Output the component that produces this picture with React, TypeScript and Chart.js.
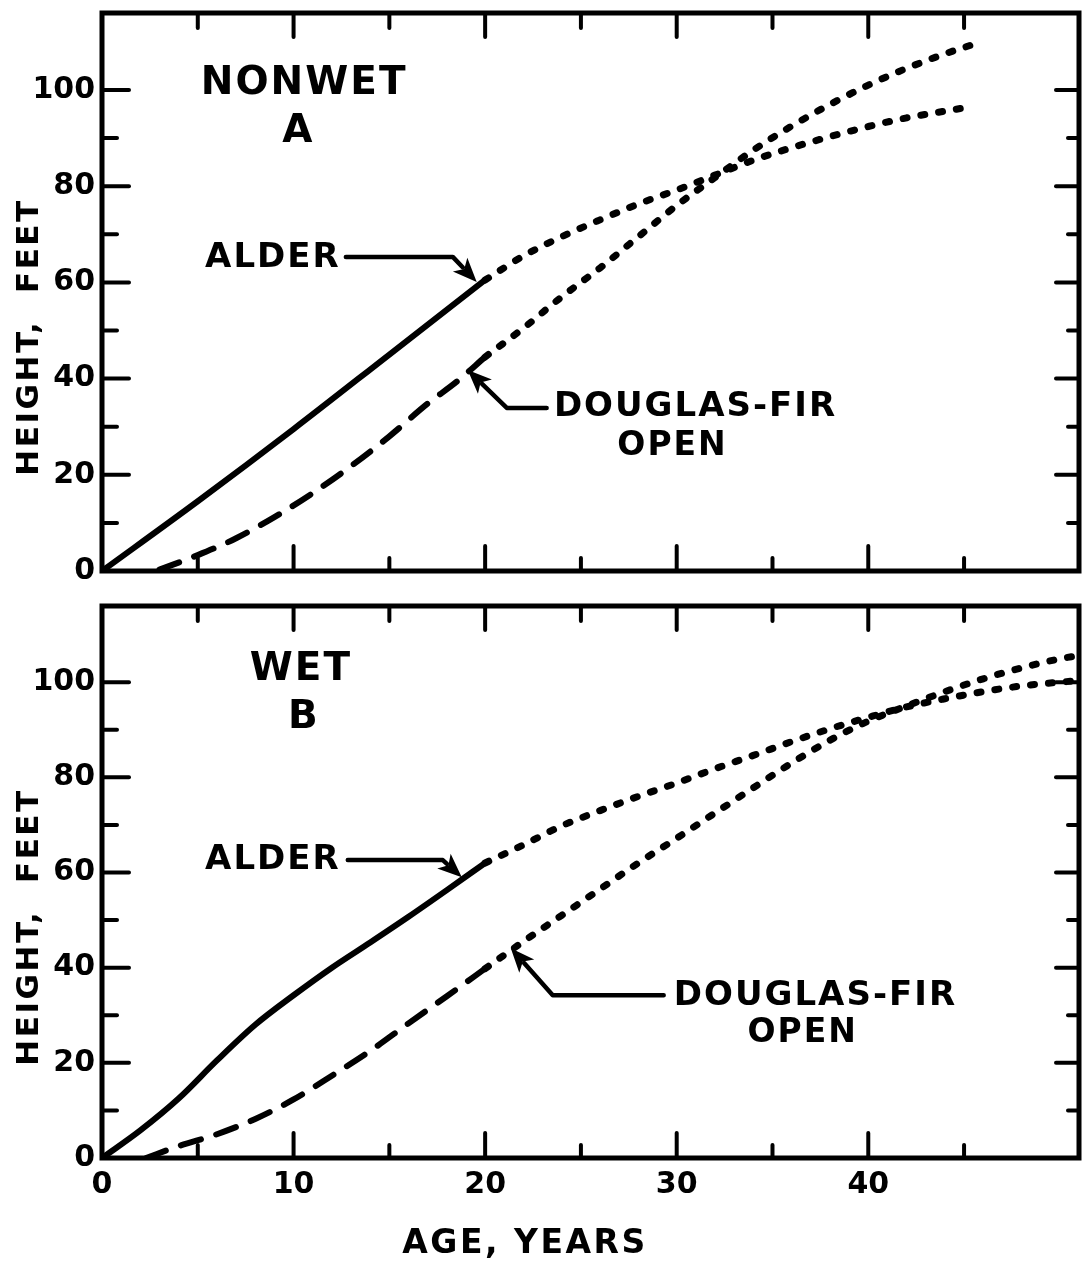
import React, { useEffect, useRef } from "react";
import { Chart, registerables } from "chart.js";

Chart.register(...registerables);

// ---------- Panel A: NONWET ----------
const alderNonwetObsAge = [0, 5, 10, 15, 20];
const alderNonwetObsHeight = [0, 14.5, 29.5, 45, 60.5];
const alderNonwetProjAge = [20, 22, 24, 26, 28, 30, 32, 34, 36, 38, 40, 42, 44, 45.5];
const alderNonwetProjHeight = [60.5, 65.5, 69.5, 73, 76.3, 79.2, 82.3, 85.4, 88, 90.3, 92.4, 94.2, 95.6, 96.6];
const firNonwetObsAge = [3, 5, 7, 9, 11, 13, 15, 17, 18.5, 20];
const firNonwetObsHeight = [0.3, 3.3, 6.8, 11.2, 16.2, 21.8, 28, 34.8, 39.3, 44.5];
const firNonwetProjAge = [20, 22, 24, 26, 28, 30, 32, 34, 36, 38, 40, 42, 44, 45.5];
const firNonwetProjHeight = [44.5, 50.5, 57, 63, 69.5, 76, 81.8, 87.5, 92.5, 97, 101, 104.5, 107.5, 109.5];

// ---------- Panel B: WET ----------
const alderWetObsAge = [0, 2, 4, 6, 8, 10, 12, 14, 16, 18, 20];
const alderWetObsHeight = [0, 5.8, 12.5, 20.5, 28, 34.2, 40, 45.3, 50.7, 56.3, 62];
const alderWetProjAge = [20, 22, 24, 26, 28, 30, 32, 34, 36, 38, 40, 42, 44, 46, 48, 50, 51];
const alderWetProjHeight = [62, 65.8, 69.8, 73, 76, 78.8, 81.8, 84.6, 87.5, 90.2, 92.6, 94.8, 96.5, 98, 99.2, 100, 100.3];
const firWetObsAge = [2.3, 4, 6, 8, 10, 12, 14, 16, 18, 20];
const firWetObsHeight = [0, 2.5, 5, 8.2, 12.3, 17.3, 22.5, 28.3, 34, 39.8];
const firWetProjAge = [20, 22, 24, 26, 28, 30, 32, 34, 36, 38, 40, 42, 44, 46, 48, 50, 51];
const firWetProjHeight = [39.8, 45.5, 51, 56.5, 62, 67.2, 72.5, 77.8, 83, 87.8, 91.8, 95, 98, 100.7, 103, 104.9, 105.6];

// axes
const X_MIN = 0;
const X_MAX = 51;
const Y_MIN = 0;
const Y_MAX = 116;
const X_STEP = 5;
const Y_STEP = 10;
const xTickLabels = ["0", "10", "20", "30", "40"];
const yTickLabels = ["0", "20", "40", "60", "80", "100"];

const FONT = '"DejaVu Sans", sans-serif';

type Label = { text: string; x: number; y: number; size: number; spacing: number };
type Arrow = { pts: [number, number][] };

const nonwetLabels: Label[] = [
  { text: "NONWET", x: 10.5, y: 101.2, size: 39, spacing: 2 },
  { text: "A", x: 10.2, y: 91.2, size: 39, spacing: 0 },
  { text: "ALDER", x: 8.87, y: 65.1, size: 34, spacing: 2 },
  { text: "DOUGLAS-FIR", x: 30.93, y: 34.1, size: 34, spacing: 2 },
  { text: "OPEN", x: 29.73, y: 25.8, size: 33, spacing: 2 },
];
const nonwetArrows: Arrow[] = [
  { pts: [[12.73, 65.3], [18.31, 65.3], [19.56, 60.1]] },
  { pts: [[23.21, 33.9], [21.13, 33.9], [19.09, 41.8]] },
];
const wetLabels: Label[] = [
  { text: "WET", x: 10.33, y: 102.5, size: 39, spacing: 2 },
  { text: "B", x: 10.49, y: 92.4, size: 39, spacing: 0 },
  { text: "ALDER", x: 8.87, y: 62.6, size: 34, spacing: 2 },
  { text: "DOUGLAS-FIR", x: 37.19, y: 34.0, size: 34, spacing: 2 },
  { text: "OPEN", x: 36.52, y: 26.1, size: 33, spacing: 2 },
];
const wetArrows: Arrow[] = [
  { pts: [[12.83, 62.6], [17.79, 62.6], [18.78, 59.0]] },
  { pts: [[29.32, 34.2], [23.53, 34.2], [21.34, 44.1]] },
];

const zip = (xs: number[], ys: number[]) => xs.map((x, i) => ({ x, y: ys[i] }));

const solidStyle = { borderWidth: 6, borderDash: [] as number[], borderCapStyle: "round" as const };
const dashStyle = { borderWidth: 6, borderDash: [21, 16], borderCapStyle: "round" as const };
const dotStyle = { borderWidth: 7, borderDash: [4, 14], borderCapStyle: "round" as const };

const annotPlugin = {
  id: "annot",
  afterDraw(chart: any, _args: any, opts: any) {
    const { ctx, chartArea: a } = chart;
    const xs = chart.scales.x;
    const ys = chart.scales.y;
    ctx.save();
    ctx.setLineDash([]);
    ctx.strokeStyle = "#000";
    ctx.fillStyle = "#000";
    // frame
    ctx.lineWidth = 5;
    ctx.lineJoin = "miter";
    ctx.strokeRect(a.left, a.top, a.right - a.left, a.bottom - a.top);
    // inward ticks
    ctx.lineWidth = 4;
    ctx.lineCap = "round";
    const seg = (x1: number, y1: number, x2: number, y2: number) => {
      ctx.beginPath();
      ctx.moveTo(x1, y1);
      ctx.lineTo(x2, y2);
      ctx.stroke();
    };
    xs.ticks.forEach((t: any) => {
      const v = t.value;
      if (v <= 0 || Math.abs(v % X_STEP) > 1e-6) return;
      const major = v % 10 === 0;
      const px = xs.getPixelForValue(v);
      seg(px, a.bottom, px, a.bottom - (major ? 25 : 13));
      seg(px, a.top, px, a.top + (major ? 24 : 15));
    });
    ys.ticks.forEach((t: any) => {
      const v = t.value;
      if (v <= 0 || Math.abs(v % Y_STEP) > 1e-6) return;
      const major = v % 20 === 0;
      const py = ys.getPixelForValue(v);
      seg(a.left, py, a.left + (major ? 27 : 15), py);
      seg(a.right, py, a.right - (major ? 23 : 11), py);
    });
    // labels
    ctx.textAlign = "center";
    ctx.textBaseline = "middle";
    (opts.labels || []).forEach((l: Label) => {
      ctx.font = `bold ${l.size}px ${FONT}`;
      (ctx as any).letterSpacing = `${l.spacing}px`;
      ctx.fillText(l.text, xs.getPixelForValue(l.x) + l.spacing / 2, ys.getPixelForValue(l.y));
    });
    // arrows
    (opts.arrows || []).forEach((ar: Arrow) => {
      const p = ar.pts.map(([x, y]) => [xs.getPixelForValue(x), ys.getPixelForValue(y)]);
      ctx.lineWidth = 4.5;
      ctx.lineCap = "round";
      ctx.lineJoin = "round";
      const n = p.length;
      const [tx, ty] = p[n - 1];
      const [sx, sy] = p[n - 2];
      const ang = Math.atan2(ty - sy, tx - sx);
      const L = 24;
      const W = 10;
      ctx.beginPath();
      ctx.moveTo(p[0][0], p[0][1]);
      for (let i = 1; i < n - 1; i++) ctx.lineTo(p[i][0], p[i][1]);
      ctx.lineTo(tx - Math.cos(ang) * (L - 4), ty - Math.sin(ang) * (L - 4));
      ctx.stroke();
      const bx = tx - Math.cos(ang) * L;
      const by = ty - Math.sin(ang) * L;
      ctx.beginPath();
      ctx.moveTo(tx, ty);
      ctx.lineTo(bx + Math.sin(ang) * W, by - Math.cos(ang) * W);
      ctx.lineTo(bx + Math.cos(ang) * 6, by + Math.sin(ang) * 6);
      ctx.lineTo(bx - Math.sin(ang) * W, by + Math.cos(ang) * W);
      ctx.closePath();
      ctx.fill();
    });
    // y title
    ctx.save();
    ctx.translate(30, 337);
    ctx.rotate(-Math.PI / 2);
    ctx.font = `bold 31px ${FONT}`;
    (ctx as any).letterSpacing = "2.5px";
    ctx.fillText("HEIGHT,  FEET", 0, 0);
    ctx.restore();
    // x title
    if (opts.xTitle) {
      ctx.font = `bold 33px ${FONT}`;
      (ctx as any).letterSpacing = "2.5px";
      ctx.fillText(opts.xTitle, 525, a.bottom + 86);
    }
    ctx.restore();
  },
};

function makeConfig(
  series: { alderObs: any[]; alderProj: any[]; firObs: any[]; firProj: any[] },
  opts: { labels: Label[]; arrows: Arrow[]; xTitle?: string; showXLabels: boolean; padTop: number; xHeight: number }
): any {
  return {
    type: "line",
    data: {
      datasets: [
        { label: "Alder", data: series.alderObs, ...solidStyle },
        { label: "Alder (projected)", data: series.alderProj, ...dotStyle },
        { label: "Douglas-fir open", data: series.firObs, ...dashStyle },
        { label: "Douglas-fir open (projected)", data: series.firProj, ...dotStyle },
      ].map((d) => ({
        ...d,
        borderColor: "#000",
        pointRadius: 0,
        fill: false,
        cubicInterpolationMode: "monotone",
        borderJoinStyle: "round",
      })),
    },
    options: {
      responsive: false,
      animation: false,
      events: [],
      devicePixelRatio: 1,
      layout: { padding: { left: 0, right: 3, top: opts.padTop, bottom: 0 } },
      plugins: {
        legend: { display: false },
        tooltip: { enabled: false },
        annot: { labels: opts.labels, arrows: opts.arrows, xTitle: opts.xTitle },
      },
      scales: {
        x: {
          type: "linear",
          min: X_MIN,
          max: X_MAX,
          grid: { display: false, drawTicks: false },
          border: { display: false },
          ticks: {
            display: opts.showXLabels,
            stepSize: X_STEP,
            autoSkip: false,
            maxRotation: 0,
            padding: 9,
            color: "#000",
            font: { family: FONT, weight: "bold", size: 30 },
            callback: (v: number) => (xTickLabels.includes(String(v)) ? String(v) : ""),
          },
          afterFit: (s: any) => {
            s.height = opts.xHeight;
            s.paddingLeft = 0;
            s.paddingRight = 0;
            s.paddingTop = 0;
            s.paddingBottom = 0;
          },
        },
        y: {
          type: "linear",
          min: Y_MIN,
          max: Y_MAX,
          grid: { display: false, drawTicks: false },
          border: { display: false },
          ticks: {
            stepSize: Y_STEP,
            autoSkip: false,
            padding: 7,
            color: "#000",
            font: { family: FONT, weight: "bold", size: 30 },
            callback: (v: number) => (yTickLabels.includes(String(v)) ? String(v) : ""),
          },
          afterFit: (s: any) => {
            s.width = 102;
            s.paddingLeft = 0;
            s.paddingRight = 0;
            s.paddingTop = 0;
            s.paddingBottom = 0;
          },
        },
      },
    },
    plugins: [annotPlugin],
  };
}

function Panel({ top, height, config }: { top: number; height: number; config: () => any }) {
  const ref = useRef<HTMLCanvasElement>(null);
  useEffect(() => {
    const chart = new Chart(ref.current as HTMLCanvasElement, config());
    return () => chart.destroy();
  }, []);
  return (
    <canvas
      ref={ref}
      width={1082}
      height={height}
      style={{ position: "absolute", left: 0, top, width: 1082, height }}
    />
  );
}

export default function App() {
  const nonwet = () =>
    makeConfig(
      {
        alderObs: zip(alderNonwetObsAge, alderNonwetObsHeight),
        alderProj: zip(alderNonwetProjAge, alderNonwetProjHeight),
        firObs: zip(firNonwetObsAge, firNonwetObsHeight),
        firProj: zip(firNonwetProjAge, firNonwetProjHeight),
      },
      { labels: nonwetLabels, arrows: nonwetArrows, showXLabels: false, padTop: 13, xHeight: 19 }
    );
  const wet = () =>
    makeConfig(
      {
        alderObs: zip(alderWetObsAge, alderWetObsHeight),
        alderProj: zip(alderWetProjAge, alderWetProjHeight),
        firObs: zip(firWetObsAge, firWetObsHeight),
        firProj: zip(firWetProjAge, firWetProjHeight),
      },
      { labels: wetLabels, arrows: wetArrows, xTitle: "AGE, YEARS", showXLabels: true, padTop: 16, xHeight: 107 }
    );
  return (
    <div style={{ position: "absolute", left: 0, top: 0, width: 1082, height: 1265, background: "#fff", overflow: "hidden" }}>
      <Panel top={0} height={590} config={nonwet} />
      <Panel top={590} height={675} config={wet} />
    </div>
  );
}
